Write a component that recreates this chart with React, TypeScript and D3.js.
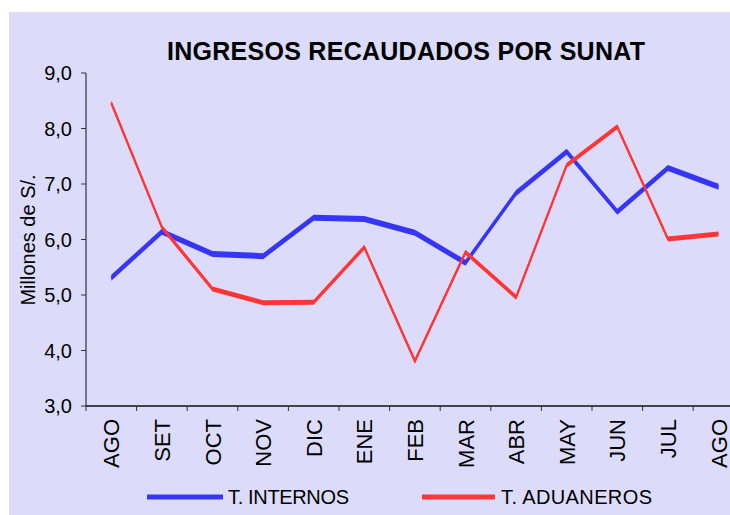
import React from 'react';
import * as d3 from "d3";

const months = ["AGO", "SET", "OCT", "NOV", "DIC", "ENE", "FEB", "MAR", "ABR", "MAY", "JUN", "JUL", "AGO"];
const internos = [5.31, 6.14, 5.74, 5.70, 6.39, 6.37, 6.12, 5.58, 6.84, 7.58, 6.50, 7.29, 6.95];
const aduaneros = [8.46, 6.22, 5.11, 4.86, 4.87, 5.86, 3.81, 5.77, 4.96, 7.34, 8.03, 6.01, 6.10];
const yTicks = [3, 4, 5, 6, 7, 8, 9];

const font = "'Liberation Sans', Arial, sans-serif";

const App = () => {
  const width = 730;
  const height = 515;
  const left = 86, top = 73, bottom = 406;
  const bandW = 50.6;

  // band scale keeps the last month partly outside the picture, like the original
  const x = d3.scaleBand<number>()
    .domain(months.map((_, i) => i))
    .range([left, left + bandW * months.length]);
  const y = d3.scaleLinear().domain([3, 9]).range([bottom, top]);
  const cx = (i: number) => (x(i) as number) + x.bandwidth() / 2;

  // excel draws the series as a flat ribbon, so thickness is vertical
  const ribbon = (h: number) => d3.area<number>()
    .x((_, i) => cx(i))
    .y0(d => y(d) - h / 2)
    .y1(d => y(d) + h / 2);
  const line = d3.line<number>().x((_, i) => cx(i)).y(d => y(d));

  const series = [
    { name: "T. INTERNOS", values: internos, color: "#3636F8", h: 6, lx1: 147, lx2: 223, tx: 228, tl: 121 },
    { name: "T. ADUANEROS", values: aduaneros, color: "#FF3636", h: 5, lx1: 422, lx2: 495, tx: 501, tl: 151 },
  ];

  const fmt = (v: number) => v.toFixed(1).replace(".", ",");

  return (
    <svg width={width} height={height} style={{ position: "absolute", left: 0, top: 0 }}>
      <rect x={9} y={12} width={width} height={height} fill="#DCDCFA" />
      <text x={406} y={60} textAnchor="middle" fontFamily={font} fontWeight="bold" fontSize={25}
        textLength={478}>
        INGRESOS RECAUDADOS POR SUNAT
      </text>

      {/* y axis */}
      <line x1={left} x2={left} y1={top} y2={bottom} stroke="#555566" strokeWidth={1.5} />
      {yTicks.map(t => (
        <g key={t}>
          <line x1={left - 5} x2={left} y1={y(t)} y2={y(t)} stroke="#333" />
          <text x={72} y={y(t)} dy="0.35em" textAnchor="end" fontFamily={font} fontSize={20}>{fmt(t)}</text>
        </g>
      ))}
      <text transform={`translate(35,240) rotate(-90)`} textAnchor="middle" fontFamily={font} fontSize={20}>
        Millones de S/.
      </text>

      {/* x axis */}
      <line x1={left} x2={width} y1={bottom} y2={bottom} stroke="#111" strokeWidth={1.5} />
      {months.map((m, i) => (
        <g key={i}>
          <line x1={x(i) as number} x2={x(i) as number} y1={bottom} y2={bottom + 5} stroke="#333" />
          <text transform={`translate(${cx(i) + 8},${bottom + 13}) rotate(-90)`} textAnchor="end"
            fontFamily={font} fontSize={22}>{m}</text>
        </g>
      ))}

      {series.map(s => (
        <g key={s.name}>
          <path d={ribbon(s.h)(s.values) as string} fill={s.color} />
          <path d={line(s.values) as string} fill="none" stroke={s.color} strokeWidth={2.2} />
        </g>
      ))}

      {/* legend */}
      {series.map(s => (
        <g key={s.name + "-leg"}>
          <line x1={s.lx1} x2={s.lx2} y1={497} y2={497} stroke={s.color} strokeWidth={5} />
          <text x={s.tx} y={497} dy="0.35em" fontFamily={font} fontSize={20} textLength={s.tl}>{s.name}</text>
        </g>
      ))}
    </svg>
  );
};

export default App;
